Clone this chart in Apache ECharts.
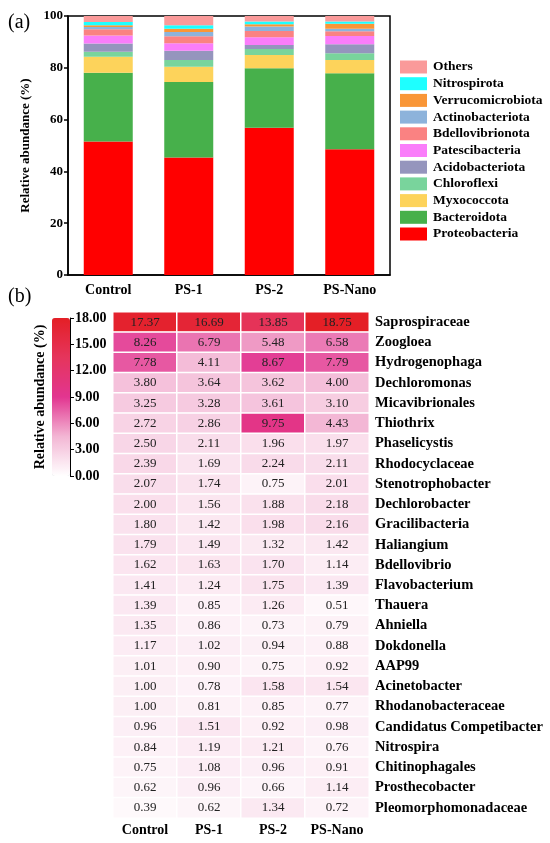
<!DOCTYPE html>
<html>
<head>
<meta charset="utf-8">
<script src="https://cdn.jsdelivr.net/npm/echarts@6/dist/echarts.min.js"></script>
<style>
  html, body { margin: 0; padding: 0; background: #fff; }
  #chart { width: 550px; height: 843px; }
</style>
</head>
<body>
<div id="chart"></div>
<script>
// (a) phylum level stacked bars
const groups = ["Control", "PS-1", "PS-2", "PS-Nano"];
const phyla = ["Proteobacteria", "Bacteroidota", "Myxococcota", "Chloroflexi", "Acidobacteriota",
  "Patescibacteria", "Bdellovibrionota", "Actinobacteriota", "Verrucomicrobiota", "Nitrospirota", "Others"];
const phylumColors = ["#FF0000", "#47B04B", "#FDD35B", "#79D49C", "#9595BD",
  "#FA7DFA", "#FA8282", "#8DB3DB", "#F99637", "#1EFFFF", "#FA9A9A"];
const proteobacteria = [51.5, 45.4, 56.9, 48.6];
const bacteroidota = [26.6, 29.1, 22.9, 29.3];
const myxococcota = [6.2, 5.9, 5.1, 5.1];
const chloroflexi = [1.9, 2.6, 2.4, 2.6];
const acidobacteriota = [3.2, 3.6, 1.5, 3.5];
const patescibacteria = [3.1, 2.9, 3.0, 3.2];
const bdellovibrionota = [2.4, 2.7, 2.4, 1.8];
const actinobacteriota = [0.9, 1.6, 1.7, 1.0];
const verrucomicrobiota = [0.6, 1.3, 0.9, 1.9];
const nitrospirota = [1.3, 1.3, 1.1, 0.9];
const others = [2.3, 3.6, 2.1, 2.1];
const phylumValues = [proteobacteria, bacteroidota, myxococcota, chloroflexi, acidobacteriota,
  patescibacteria, bdellovibrionota, actinobacteriota, verrucomicrobiota, nitrospirota, others];

// (b) genus level heatmap
const genera = ["Saprospiraceae", "Zoogloea", "Hydrogenophaga", "Dechloromonas", "Micavibrionales",
  "Thiothrix", "Phaselicystis", "Rhodocyclaceae", "Stenotrophobacter", "Dechlorobacter",
  "Gracilibacteria", "Haliangium", "Bdellovibrio", "Flavobacterium", "Thauera", "Ahniella",
  "Dokdonella", "AAP99", "Acinetobacter", "Rhodanobacteraceae", "Candidatus Competibacter",
  "Nitrospira", "Chitinophagales", "Prosthecobacter", "Pleomorphomonadaceae"];
const control = [17.37, 8.26, 7.78, 3.80, 3.25, 2.72, 2.50, 2.39, 2.07, 2.00, 1.80, 1.79, 1.62,
  1.41, 1.39, 1.35, 1.17, 1.01, 1.00, 1.00, 0.96, 0.84, 0.75, 0.62, 0.39];
const ps1 = [16.69, 6.79, 4.11, 3.64, 3.28, 2.86, 2.11, 1.69, 1.74, 1.56, 1.42, 1.49, 1.63,
  1.24, 0.85, 0.86, 1.02, 0.90, 0.78, 0.81, 1.51, 1.19, 1.08, 0.96, 0.62];
const ps2 = [13.85, 5.48, 8.67, 3.62, 3.61, 9.75, 1.96, 2.24, 0.75, 1.88, 1.98, 1.32, 1.70,
  1.75, 1.26, 0.73, 0.94, 0.75, 1.58, 0.85, 0.92, 1.21, 0.96, 0.66, 1.34];
const psNano = [18.75, 6.58, 7.79, 4.00, 3.10, 4.43, 1.97, 2.11, 2.01, 2.18, 2.16, 1.42, 1.14,
  1.39, 0.51, 0.79, 0.88, 0.92, 1.54, 0.77, 0.98, 0.76, 0.91, 1.14, 0.72];
const genusColumns = [control, ps1, ps2, psNano];

const font = "'Liberation Serif', 'Times New Roman', serif";

const heatData = [];
genusColumns.forEach((col, i) => {
  col.forEach((v, j) => heatData.push([i, j, v]));
});

const barSeries = phyla.map((name, k) => ({
  name: name,
  type: "bar",
  stack: "total",
  xAxisIndex: 0,
  yAxisIndex: 0,
  barWidth: 49,
  itemStyle: { color: phylumColors[k] },
  emphasis: { disabled: true },
  data: phylumValues[k]
}));

const chart = echarts.init(document.getElementById("chart"));
chart.setOption({
  backgroundColor: "#fff",
  animation: false,
  textStyle: { fontFamily: font },
  graphic: [
    { type: "text", left: 8, top: 13, style: { text: "(a)", font: "20px " + font, fill: "#000" } },
    { type: "text", left: 8, top: 287, style: { text: "(b)", font: "20px " + font, fill: "#000" } }
  ],
  legend: {
    orient: "vertical",
    left: 400,
    top: 60,
    itemWidth: 27,
    itemHeight: 13,
    itemGap: 2.7,
    icon: "rect",
    padding: 0,
    selectedMode: false,
    data: phyla.slice().reverse(),
    textStyle: { fontFamily: font, fontWeight: "bold", fontSize: 13.5, color: "#000", padding: [0, 0, 0, 1] }
  },
  grid: [
    { left: 68, top: 16, width: 322, height: 259, show: true, borderColor: "#000", borderWidth: 1.5 },
    { left: 113, top: 312, width: 256, height: 506 },
    { left: 70, top: 318, width: 10, height: 158 }
  ],
  xAxis: [
    {
      gridIndex: 0, type: "category", data: groups,
      axisLine: { lineStyle: { color: "#000", width: 1.5 } },
      axisTick: { alignWithLabel: true, length: 4, lineStyle: { color: "#000", width: 1.5 } },
      axisLabel: { color: "#000", fontWeight: "bold", fontSize: 14, fontFamily: font, margin: 8 }
    },
    {
      gridIndex: 1, type: "category", data: groups,
      axisLine: { show: false }, axisTick: { show: false },
      axisLabel: { interval: 0, color: "#000", fontWeight: "bold", fontSize: 14, fontFamily: font, margin: 5 }
    },
    { gridIndex: 2, type: "value", show: false, min: 0, max: 1 }
  ],
  yAxis: [
    {
      gridIndex: 0, type: "value", min: 0, max: 100, interval: 20,
      name: "Relative abundance (%)", nameLocation: "middle", nameGap: 33,
      nameTextStyle: { color: "#000", fontWeight: "bold", fontSize: 13, fontFamily: font },
      splitLine: { show: false },
      axisLine: { show: true, lineStyle: { color: "#000", width: 1.5 } },
      axisTick: { show: true, length: 4, lineStyle: { color: "#000", width: 1.5 } },
      axisLabel: { color: "#000", fontWeight: "bold", fontSize: 13, fontFamily: font, margin: 5 }
    },
    {
      gridIndex: 1, type: "category", data: genera, inverse: true, position: "right",
      axisLine: { show: false }, axisTick: { show: false },
      axisLabel: { interval: 0, color: "#000", fontWeight: "bold", fontSize: 14.5, fontFamily: font, margin: 6, align: "left" }
    },
    {
      gridIndex: 2, type: "value", min: 0, max: 18, interval: 3, position: "left",
      name: "Relative abundance (%)", nameLocation: "middle", nameGap: 23,
      nameTextStyle: { color: "#000", fontWeight: "bold", fontSize: 14, fontFamily: font },
      splitLine: { show: false },
      axisLine: { show: true, lineStyle: { color: "#000", width: 1 } },
      axisTick: { show: true, inside: true, length: 4, lineStyle: { color: "#000", width: 1 } },
      axisLabel: {
        inside: true, margin: 5, color: "#000", fontWeight: "bold", fontSize: 14, fontFamily: font,
        formatter: v => v.toFixed(2)
      }
    }
  ],
  visualMap: {
    type: "continuous",
    seriesIndex: phyla.length,
    min: 0,
    max: 18,
    left: 52,
    top: 318,
    itemWidth: 18,
    itemHeight: 158,
    padding: 0,
    calculable: false,
    hoverLink: false,
    inRange: { color: ["#ffffff", "#f3b6d4", "#e23590", "#e5355c", "#e41f26"] }
  },
  series: barSeries.concat([{
    type: "heatmap",
    xAxisIndex: 1,
    yAxisIndex: 1,
    data: heatData,
    itemStyle: { borderColor: "#fff", borderWidth: 1.5 },
    emphasis: { disabled: true },
    label: {
      show: true, color: "#222", fontSize: 13, fontFamily: font,
      formatter: p => p.value[2].toFixed(2)
    }
  }])
});
</script>
</body>
</html>
